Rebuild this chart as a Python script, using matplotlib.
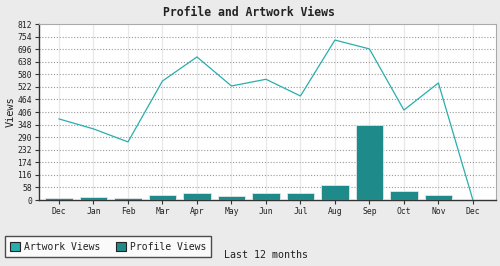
import matplotlib
matplotlib.use("Agg")
import matplotlib.pyplot as plt
from matplotlib.patches import Patch

months = ["Dec", "Jan", "Feb", "Mar", "Apr", "May", "Jun", "Jul", "Aug", "Sep", "Oct", "Nov", "Dec"]
artwork_views = [374, 328, 268, 549, 660, 526, 557, 480, 738, 697, 415, 540, 0]
profile_views = [8, 12, 7, 24, 34, 20, 34, 34, 71, 346, 43, 24, 0]
y_ticks = [0, 58, 116, 174, 232, 290, 348, 406, 464, 522, 580, 638, 696, 754, 812]

bar_color = "#1e8a8a"
line_color = "#2aadad"
mono = "DejaVu Sans Mono"

fig = plt.figure(figsize=(5.0, 2.66), dpi=100, facecolor="#ebebeb")
ax = fig.add_axes([39/500, 1-200/266, (496-39)/500, (200-24)/266])
ax.set_facecolor("white")

x = list(range(len(months)))
ax.bar(x, profile_views, width=0.8, color=bar_color, edgecolor="#eeeeee", linewidth=0.5, zorder=3)
ax.plot(x, artwork_views, color=line_color, linewidth=0.9, zorder=4)

ax.set_xlim(-0.58, 12.67)
ax.set_ylim(0, 812)
ax.set_xticks(x)
ax.set_xticklabels(months, family=mono, fontsize=5.8, color="#222222")
ax.set_yticks(y_ticks)
ax.set_yticklabels([str(v) for v in y_ticks], family=mono, fontsize=5.8, color="#222222")
ax.tick_params(axis="both", length=3, width=0.8, color="#333333", pad=2)

for xi in x:
    ax.axvline(xi, color="#e8e8e8", linewidth=0.9, zorder=1)
for yv in y_ticks[1:-1]:
    ax.axhline(yv, color="#999999", linewidth=0.8, linestyle=(0, (1, 1.6)), zorder=2)

ax.spines["left"].set_color("#333333")
ax.spines["bottom"].set_color("#333333")
ax.spines["left"].set_linewidth(1.0)
ax.spines["bottom"].set_linewidth(1.0)
ax.spines["top"].set_color("#aaaaaa")
ax.spines["right"].set_color("#aaaaaa")
ax.spines["top"].set_linewidth(0.8)
ax.spines["right"].set_linewidth(0.8)

ax.set_ylabel("Views", family=mono, fontsize=7.4, color="#222222", labelpad=1)

fig.text(0.497, 1-12/266, "Profile and Artwork Views", ha="center", va="center",
         family=mono, fontweight="bold", fontsize=8.3, color="#222222")
fig.text(224/500, 1-255/266, "Last 12 months", ha="left", va="center",
         family=mono, fontsize=7.2, color="#222222")

handles = [Patch(facecolor=line_color, edgecolor="#222222", linewidth=0.8, label="Artwork Views"),
           Patch(facecolor=bar_color, edgecolor="#222222", linewidth=0.8, label="Profile Views")]
leg = fig.legend(handles=handles, loc="lower left", bbox_to_anchor=(5/500, 1-257/266),
                 ncol=2, frameon=True, fancybox=False, borderpad=0.55, handlelength=1.0,
                 handleheight=1.0, handletextpad=0.4, columnspacing=1.6, borderaxespad=0,
                 prop={"family": mono, "size": 7})
leg.get_frame().set_edgecolor("#222222")
leg.get_frame().set_linewidth(1.0)
for t in leg.get_texts():
    t.set_color("#222222")

fig.savefig("out.png", dpi=100, facecolor=fig.get_facecolor())
